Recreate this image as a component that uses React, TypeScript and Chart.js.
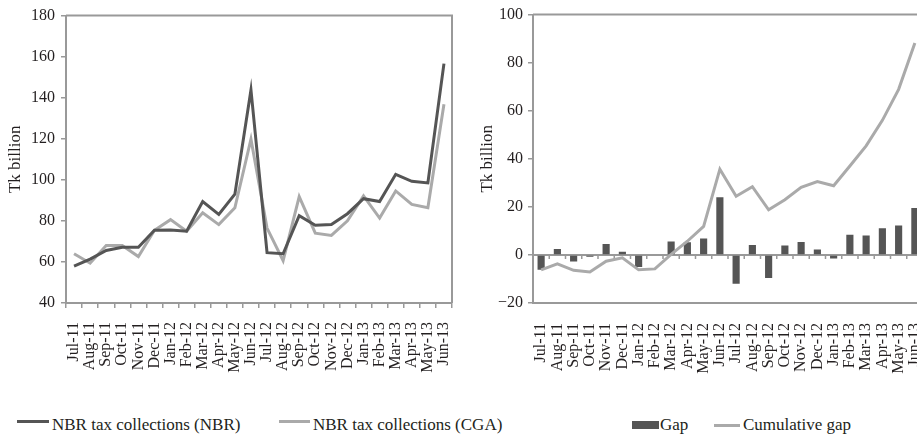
import React, { useEffect, useRef } from 'react';
import { Chart, registerables } from 'chart.js';

Chart.register(...registerables);

const months = ['Jul-11', 'Aug-11', 'Sep-11', 'Oct-11', 'Nov-11', 'Dec-11', 'Jan-12', 'Feb-12', 'Mar-12', 'Apr-12', 'May-12', 'Jun-12', 'Jul-12', 'Aug-12', 'Sep-12', 'Oct-12', 'Nov-12', 'Dec-12', 'Jan-13', 'Feb-13', 'Mar-13', 'Apr-13', 'May-13', 'Jun-13'];
const nbrCollections = [58, 61.4, 65.6, 67.2, 67.2, 75.4, 75.6, 75, 89.4, 83.2, 93, 143.8, 64.5, 64, 82.5, 77.9, 78.2, 83.5, 90.8, 89.4, 102.7, 99.3, 98.5, 156.6];
const cgaCollections = [64, 59.4, 68, 68, 62.6, 75.4, 80.6, 75, 84, 78.2, 86.4, 119.8, 76.5, 60.6, 91.8, 74, 72.9, 80, 92.2, 81.4, 94.6, 88, 86.4, 136.8];
const gapValues = [-6.2, 2.5, -2.7, -0.8, 4.6, 1.3, -5, 0.3, 5.6, 5.3, 6.8, 24, -12, 4.1, -9.6, 3.9, 5.4, 2.3, -1.5, 8.4, 8.1, 11.1, 12.2, 19.5];
const cumulativeGap = [-6.2, -3.7, -6.4, -7.1, -2.6, -1.2, -6.2, -5.8, 0.2, 5.7, 11.9, 35.7, 24.4, 28.4, 18.8, 23, 28.1, 30.5, 28.8, 37, 45.4, 56, 68.9, 88.2];

const leftAxis = { min: 40, max: 180, step: 20 };
const rightAxis = { min: -20, max: 100, step: 20 };

const FONT = '"Liberation Serif", "Times New Roman", serif';
const TEXT = '#231f20';
const AXIS = '#999999';
const DARK = '#555555';
const LIGHT = '#aaaaaa';
const CANVAS_H = 400;

const framePlugin = {
  id: 'frame',
  beforeDatasetsDraw(chart: any) {
    const { ctx, chartArea: a } = chart;
    ctx.save();
    ctx.strokeStyle = AXIS;
    ctx.lineWidth = 2;
    ctx.beginPath();
    ctx.moveTo(a.left, a.top);
    ctx.lineTo(a.right, a.top);
    ctx.lineTo(a.right, a.bottom);
    ctx.stroke();
    ctx.restore();
  },
};

const zeroLinePlugin = {
  id: 'zeroLine',
  beforeDatasetsDraw(chart: any) {
    const { ctx, chartArea: a } = chart;
    const xs = chart.scales.x;
    const ys = chart.scales.y;
    const y0 = ys.getPixelForValue(0);
    ctx.save();
    ctx.strokeStyle = AXIS;
    ctx.lineWidth = 2;
    ctx.beginPath();
    ctx.moveTo(a.left, y0);
    ctx.lineTo(a.right, y0);
    ctx.stroke();
    ctx.lineWidth = 1.5;
    ctx.beginPath();
    for (let i = 0; i <= months.length; i++) {
      const x = xs.getPixelForValue(i - 0.5);
      ctx.moveTo(x, y0);
      ctx.lineTo(x, y0 + 4);
    }
    ctx.stroke();
    ctx.restore();
  },
};

const fitX = (s: any) => { s.height = CANVAS_H - 303; s.paddingLeft = 0; s.paddingRight = 0; };

function LeftChart() {
  const ref = useRef<HTMLCanvasElement>(null);
  useEffect(() => {
    const chart = new Chart(ref.current!, {
      type: 'line',
      data: {
        labels: months,
        datasets: [
          { label: 'NBR tax collections (NBR)', data: nbrCollections, borderColor: DARK, borderWidth: 3, pointRadius: 0, tension: 0 },
          { label: 'NBR tax collections (CGA)', data: cgaCollections, borderColor: LIGHT, borderWidth: 3, pointRadius: 0, tension: 0 },
        ],
      },
      options: {
        responsive: false,
        animation: false,
        devicePixelRatio: 1,
        layout: { padding: { top: 15, right: 8, left: 0, bottom: 0 } },
        plugins: { legend: { display: false }, tooltip: { enabled: false } },
        scales: {
          x: {
            offset: true,
            grid: { offset: true, drawOnChartArea: false, drawTicks: true, tickLength: 5, color: AXIS, lineWidth: 1.5 },
            border: { color: AXIS, width: 2 },
            ticks: { autoSkip: false, minRotation: 90, maxRotation: 90, padding: 14, color: TEXT, font: { family: FONT, size: 16 } },
            afterFit: fitX,
          },
          y: {
            min: leftAxis.min,
            max: leftAxis.max,
            ticks: { stepSize: leftAxis.step, padding: 6, color: TEXT, font: { family: FONT, size: 16 } },
            grid: { drawOnChartArea: false, drawTicks: true, tickLength: 5, color: AXIS, lineWidth: 1.5 },
            border: { color: AXIS, width: 2 },
            title: { display: true, text: 'Tk billion', color: TEXT, font: { family: FONT, size: 17 }, padding: { top: 5, bottom: 0 } },
            afterFit: (s: any) => { s.width = 66; },
          },
        },
      },
      plugins: [framePlugin],
    } as any);
    return () => chart.destroy();
  }, []);
  return <canvas ref={ref} width={460} height={CANVAS_H} style={{ position: 'absolute', left: 0, top: 0, width: 460, height: CANVAS_H }} />;
}

function RightChart() {
  const ref = useRef<HTMLCanvasElement>(null);
  useEffect(() => {
    const chart = new Chart(ref.current!, {
      type: 'bar',
      data: {
        labels: months,
        datasets: [
          { type: 'line', label: 'Cumulative gap', data: cumulativeGap, borderColor: LIGHT, borderWidth: 3, pointRadius: 0, tension: 0, order: 0 },
          { type: 'bar', label: 'Gap', data: gapValues, backgroundColor: DARK, borderWidth: 0, barPercentage: 0.44, categoryPercentage: 1, order: 1 },
        ],
      },
      options: {
        responsive: false,
        animation: false,
        devicePixelRatio: 1,
        layout: { padding: { top: 13, right: 7, left: 0, bottom: 0 } },
        plugins: { legend: { display: false }, tooltip: { enabled: false } },
        scales: {
          x: {
            offset: true,
            grid: { offset: true, drawOnChartArea: false, drawTicks: false, color: AXIS },
            border: { color: AXIS, width: 2 },
            ticks: { autoSkip: false, minRotation: 90, maxRotation: 90, padding: 20, color: TEXT, font: { family: FONT, size: 16 } },
            afterFit: fitX,
          },
          y: {
            min: rightAxis.min,
            max: rightAxis.max,
            ticks: {
              stepSize: rightAxis.step, padding: 5, color: TEXT, font: { family: FONT, size: 16 },
              callback: (v: any) => String(v).replace('-', '\u2212'),
            },
            grid: { drawOnChartArea: false, drawTicks: true, tickLength: 5, color: AXIS, lineWidth: 1.5 },
            border: { color: AXIS, width: 2 },
            title: { display: true, text: 'Tk billion', color: TEXT, font: { family: FONT, size: 17 }, padding: { top: 17, bottom: 0 } },
            afterFit: (s: any) => { s.width = 73; },
          },
        },
      },
      plugins: [framePlugin, zeroLinePlugin],
    } as any);
    return () => chart.destroy();
  }, []);
  return <canvas ref={ref} width={470} height={CANVAS_H} style={{ position: 'absolute', left: 460, top: 0, width: 470, height: CANVAS_H }} />;
}

const legendText: React.CSSProperties = {
  position: 'absolute', top: 416, fontFamily: FONT, fontSize: 17, lineHeight: '17px', color: TEXT, whiteSpace: 'nowrap',
};

export default function App() {
  return (
    <div style={{ position: 'fixed', left: 0, top: 0, width: 917, height: 437, overflow: 'hidden', background: '#fff' }}>
      <LeftChart />
      <RightChart />
      <div style={{ position: 'absolute', left: 17, top: 420, width: 32, height: 3, background: DARK }} />
      <div style={{ ...legendText, left: 52 }}>NBR tax collections (NBR)</div>
      <div style={{ position: 'absolute', left: 279, top: 420, width: 31, height: 3, background: LIGHT }} />
      <div style={{ ...legendText, left: 313 }}>NBR tax collections (CGA)</div>
      <div style={{ position: 'absolute', left: 632, top: 421, width: 27, height: 8, background: DARK }} />
      <div style={{ ...legendText, left: 660 }}>Gap</div>
      <div style={{ position: 'absolute', left: 714, top: 424, width: 26, height: 3, background: LIGHT }} />
      <div style={{ ...legendText, left: 743 }}>Cumulative gap</div>
    </div>
  );
}
